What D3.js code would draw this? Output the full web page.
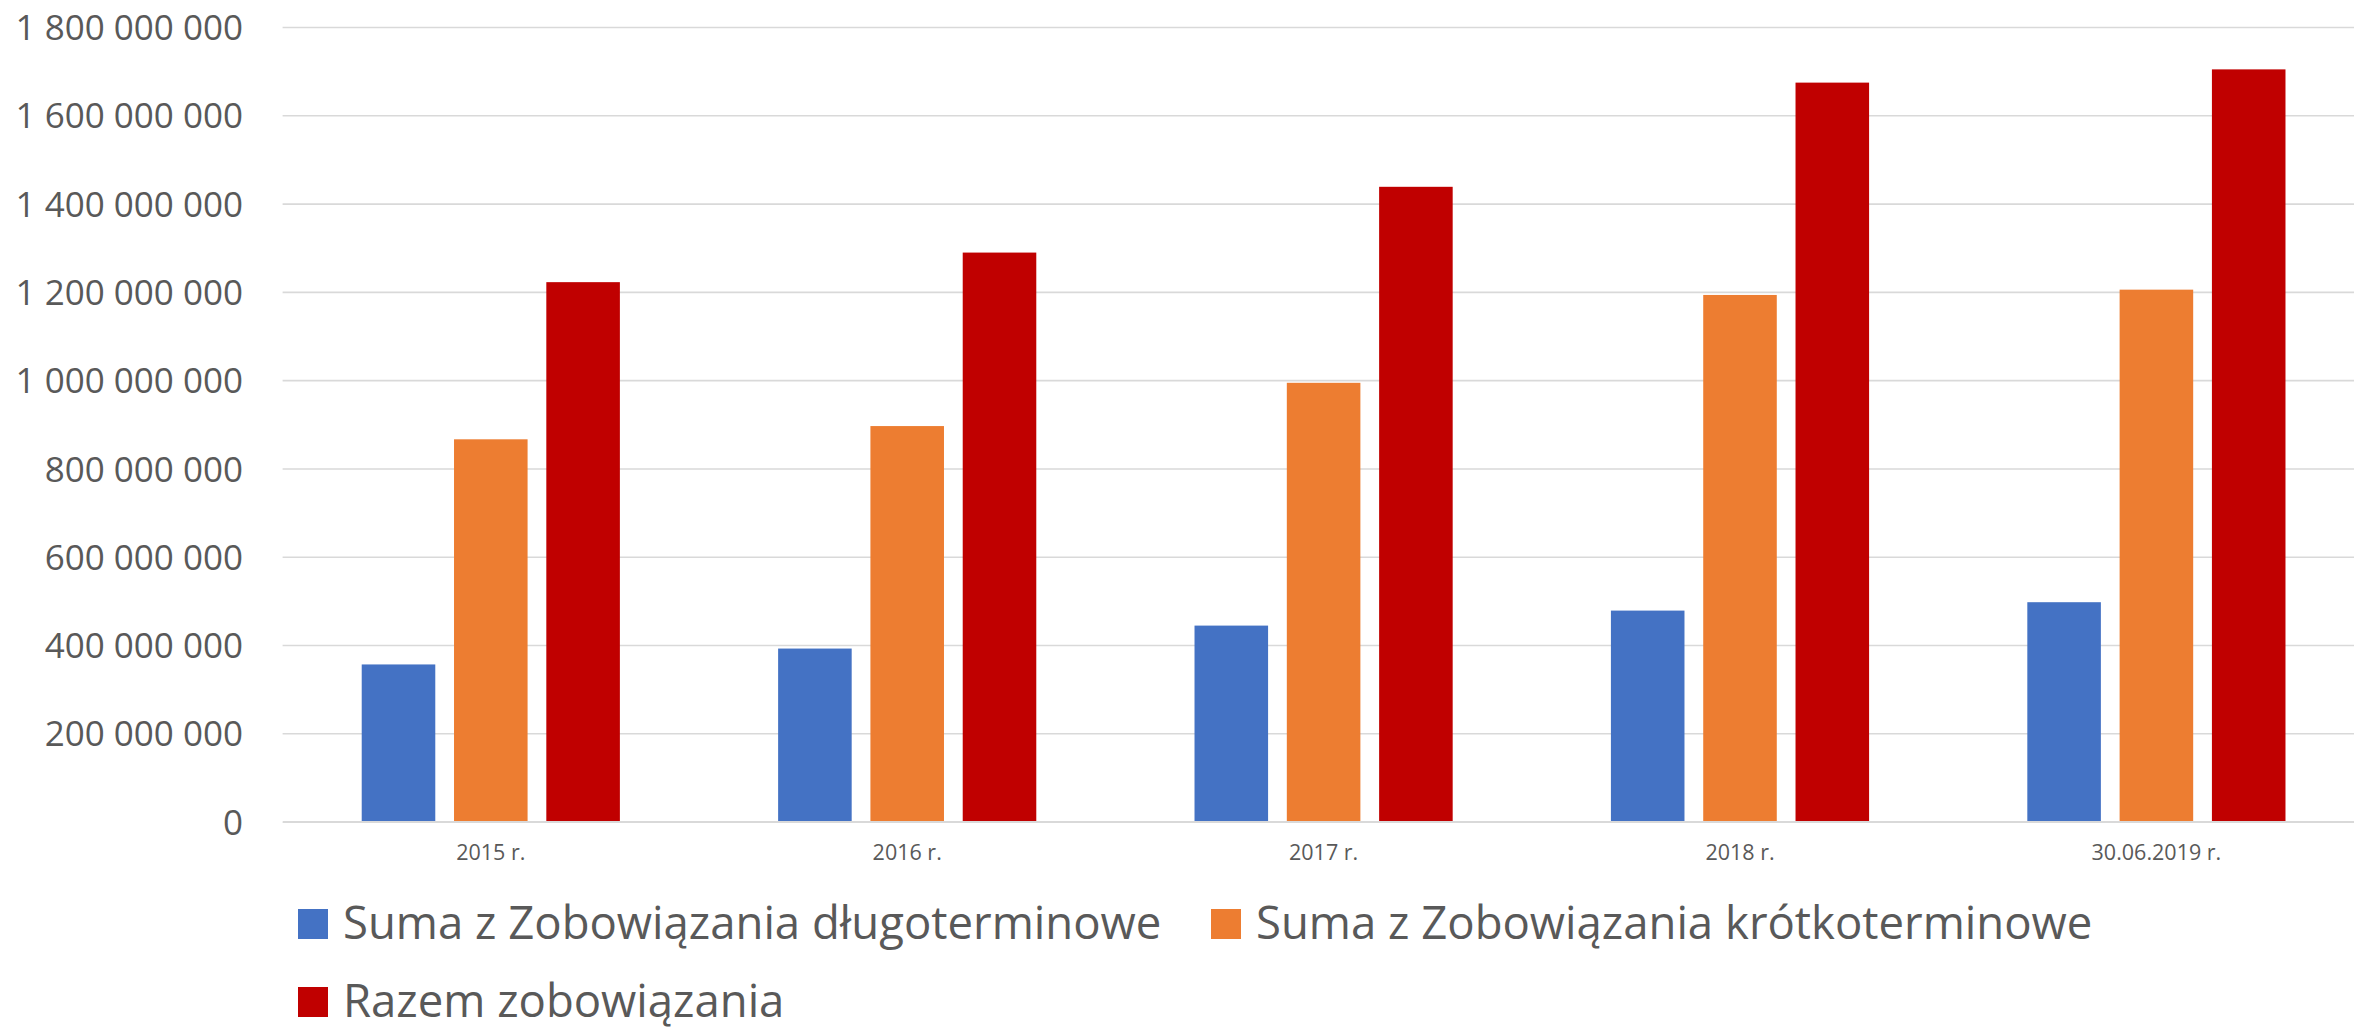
<!DOCTYPE html>
<html>
<head>
<meta charset="utf-8">
<script src="https://cdn.jsdelivr.net/npm/d3@7/dist/d3.min.js"></script>
<style>
  html, body { margin: 0; padding: 0; background: #ffffff; }
  svg { display: block; }
  svg text { font-family: "Open Sans", Lato, sans-serif; }
</style>
</head>
<body>
<svg id="chart" width="2354" height="1029"></svg>
<script>
// ---- data ----
const categories = ["2015 r.", "2016 r.", "2017 r.", "2018 r.", "30.06.2019 r."];
const seriesNames = [
  "Suma z Zobowiązania długoterminowe",
  "Suma z Zobowiązania krótkoterminowe",
  "Razem zobowiązania"
];
const longTerm  = [356000000, 392000000, 444000000, 478000000, 497000000];
const shortTerm = [866000000, 896000000, 994000000, 1193000000, 1205000000];
const total     = [1222000000, 1289000000, 1438000000, 1674000000, 1704000000];
const yTicks = [0, 200000000, 400000000, 600000000, 800000000, 1000000000, 1200000000, 1400000000, 1600000000, 1800000000];
const colors = ["#4472C4", "#ED7D31", "#C00000"];

const seriesValues = [longTerm, shortTerm, total];

// ---- layout ----
const svg = d3.select("#chart");
const plotLeft = 282.6, plotRight = 2364.6, plotTop = 27, plotBottom = 821.6;
const textColor = "#595959";
const gridColor = "#d9d9d9";
const fontFam = '"Open Sans", Lato, sans-serif';

const x0 = d3.scaleBand().domain(categories).range([plotLeft, plotRight])
  .paddingInner(0.38).paddingOuter(0.19);
const x1 = d3.scaleBand().domain(d3.range(seriesNames.length)).range([0, x0.bandwidth()])
  .paddingInner(0.203).paddingOuter(0);
const y = d3.scaleLinear().domain([0, 1800000000]).range([plotBottom, plotTop]);

const locale = d3.formatLocale({ thousands: "\u00a0", grouping: [3], decimal: ",", currency: ["", ""] });
const fmt = locale.format(",d");

// gridlines + y labels
const yAxis = svg.append("g")
  .attr("transform", `translate(${plotLeft},0)`)
  .call(d3.axisLeft(y).tickValues(yTicks).tickFormat(fmt)
        .tickSize(-(plotRight - plotLeft)).tickPadding(39.6));
yAxis.attr("font-family", fontFam);
yAxis.select(".domain").remove();
yAxis.selectAll(".tick line").attr("stroke", gridColor).attr("stroke-width", 1.6);
yAxis.selectAll(".tick text")
  .attr("fill", textColor)
  .style("font-size", "35px")
  .attr("dy", "0.36em");

// bars
const groups = svg.append("g").selectAll("g")
  .data(categories)
  .join("g")
  .attr("transform", d => `translate(${x0(d)},0)`);

groups.selectAll("rect")
  .data((d, i) => seriesValues.map((vals, s) => ({ s, v: vals[i] })))
  .join("rect")
  .attr("x", d => x1(d.s))
  .attr("width", x1.bandwidth())
  .attr("y", d => y(d.v))
  .attr("height", d => y(0) - y(d.v))
  .attr("fill", d => colors[d.s]);

// x axis
const xAxis = svg.append("g")
  .attr("transform", `translate(0,${plotBottom})`)
  .call(d3.axisBottom(x0).tickSize(0).tickPadding(0));
xAxis.attr("font-family", fontFam);
xAxis.select(".domain").attr("stroke", gridColor).attr("stroke-width", 2);
xAxis.selectAll(".tick text")
  .attr("fill", textColor)
  .style("font-size", "21.5px")
  .attr("y", 38.5)
  .attr("dy", "0");

// legend
const legendPos = [
  { x: 298, y: 909 },
  { x: 1211, y: 909 },
  { x: 298, y: 987 }
];
const legend = svg.append("g").selectAll("g")
  .data(seriesNames)
  .join("g")
  .attr("transform", (d, i) => `translate(${legendPos[i].x},${legendPos[i].y})`);
legend.append("rect")
  .attr("width", 30).attr("height", 30)
  .attr("fill", (d, i) => colors[i]);
legend.append("text")
  .attr("x", 45).attr("y", 29.5)
  .attr("fill", textColor)
  .style("font-size", "45.5px")
  .text(d => d);
</script>
</body>
</html>
